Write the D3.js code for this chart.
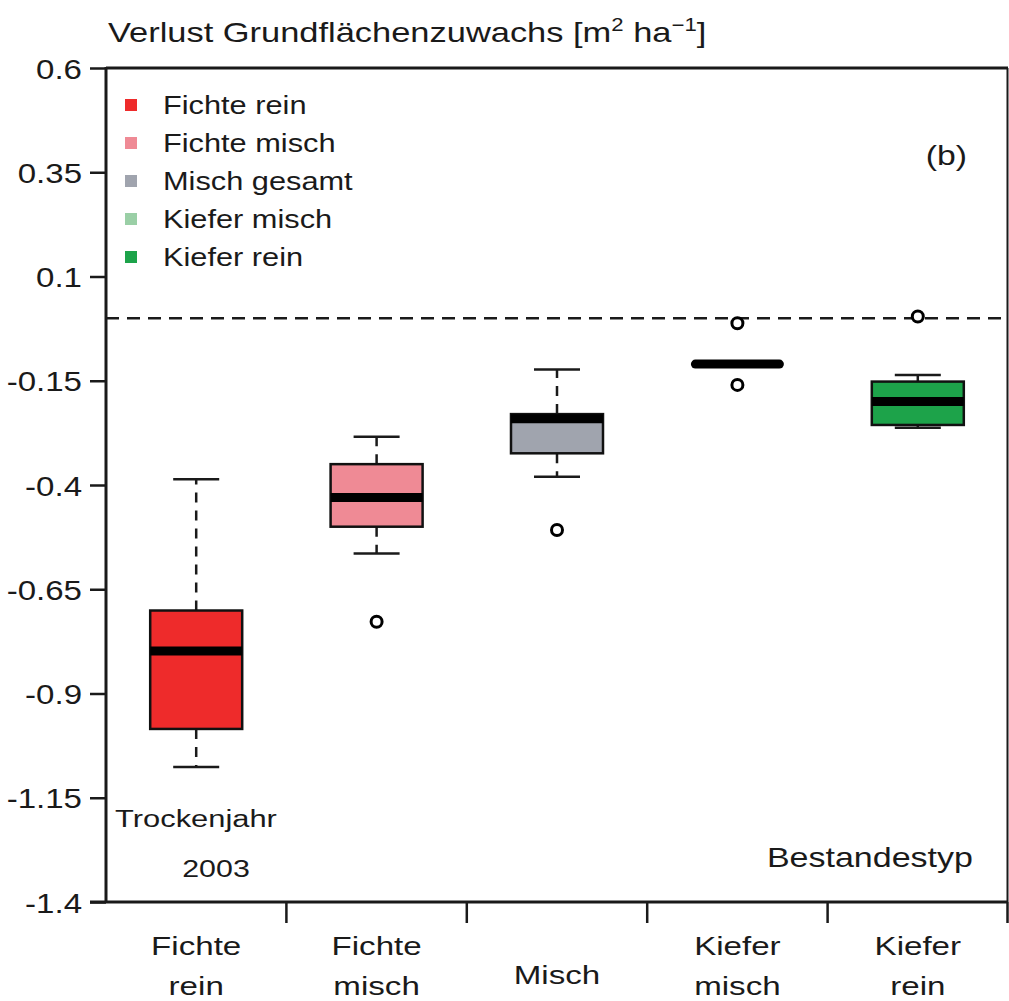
<!DOCTYPE html>
<html>
<head>
<meta charset="utf-8">
<script src="https://cdn.jsdelivr.net/npm/d3@7"></script>
<style>
  html, body { margin: 0; padding: 0; background: #fff; }
  svg { display: block; }
  text { font-family: "Liberation Sans", Arial, Helvetica, sans-serif; fill: #1a1a1a; }
</style>
</head>
<body>
<svg id="chart" width="1009" height="1001"></svg>
<script>
// Stand types (x categories) and their box-plot statistics [m² ha⁻¹]
const categories = ["Fichte rein", "Fichte misch", "Misch", "Kiefer misch", "Kiefer rein"];
const categoryLines = [["Fichte", "rein"], ["Fichte", "misch"], ["Misch"], ["Kiefer", "misch"], ["Kiefer", "rein"]];
const whiskerLow  = [-1.076, -0.564, -0.380, -0.110, -0.263];
const q1          = [-0.985, -0.500, -0.324, -0.110, -0.256];
const medians     = [-0.798, -0.430, -0.241, -0.110, -0.200];
const q3          = [-0.701, -0.350, -0.230, -0.110, -0.152];
const whiskerHigh = [-0.386, -0.284, -0.123, -0.110, -0.136];
const outliers    = [[], [-0.728], [-0.508], [-0.012, -0.160], [0.004]];
const boxColors   = ["#ee2b2b", "#ef8a95", "#a0a4ae", "#9acfa6", "#1da34a"];

// Legend entries
const legendLabels = ["Fichte rein", "Fichte misch", "Misch gesamt", "Kiefer misch", "Kiefer rein"];

// Y axis ticks
const yTickValues = [0.6, 0.35, 0.1, -0.15, -0.4, -0.65, -0.9, -1.15, -1.4];
const yTickLabels = ["0.6", "0.35", "0.1", "-0.15", "-0.4", "-0.65", "-0.9", "-1.15", "-1.4"];
const referenceValue = 0;

const svg = d3.select("#chart");
const plotLeft = 106, plotRight = 1008, plotTop = 68, plotBottom = 902;

// The typeface is set a little wide: move each text's anchor into a transform
// and widen it horizontally around that anchor.
function widen(sel, sx) {
  sel.each(function() {
    const t = d3.select(this);
    const tx = +t.attr("x") || 0, ty = +t.attr("y") || 0;
    t.attr("x", 0).attr("y", 0).attr("transform", `translate(${tx},${ty}) scale(${sx},1)`);
  });
}

const y = d3.scaleLinear().domain([-1.4, 0.6]).range([plotBottom, plotTop]);
const x = d3.scaleBand().domain(categories).range([plotLeft, plotRight]).padding(0);
const bw = x.bandwidth();
const boxW = bw * 0.51;
const capW = boxW * 0.5;

// Title
const title = svg.append("text").attr("x", 108).attr("y", 42).style("font-size", "28px");
title.append("tspan").text("Verlust Grundflächenzuwachs [m");
title.append("tspan").attr("dy", -11).style("font-size", "18px").text("2");
title.append("tspan").attr("dy", 11).text(" ha");
title.append("tspan").attr("dy", -11).style("font-size", "18px").text("−1");
title.append("tspan").attr("dy", 11).text("]");
widen(title, 1.23);

// Y axis
const yAxis = d3.axisLeft(y)
  .tickValues(yTickValues)
  .tickFormat((d, i) => yTickLabels[i])
  .tickSize(16)
  .tickPadding(8);
const gy = svg.append("g").attr("transform", `translate(${plotLeft},0)`).call(yAxis);
gy.select(".domain").remove();
gy.selectAll(".tick line").attr("stroke", "#1a1a1a").attr("stroke-width", 2.5);
gy.selectAll(".tick text").style("font-size", "28px").attr("fill", "#1a1a1a").attr("dy", "0.36em");
widen(gy.selectAll(".tick text"), 1.18);

// X axis labels (no tick marks at centres)
const xAxis = d3.axisBottom(x).tickSize(0).tickFormat("");
const gx = svg.append("g").attr("transform", `translate(0,${plotBottom})`).call(xAxis);
gx.select(".domain").remove();
gx.selectAll(".tick").each(function(d, i) {
  const lines = categoryLines[i];
  const t = d3.select(this).append("text")
    .attr("text-anchor", "middle")
    .style("font-size", "26.5px")
    .attr("fill", "#1a1a1a")
    .attr("transform", "scale(1.25,1)");
  if (lines.length === 1) {
    t.append("tspan").attr("x", 0).attr("y", 82).text(lines[0]);
  } else {
    lines.forEach((s, k) => t.append("tspan").attr("x", 0).attr("y", 53 + k * 40).text(s));
  }
});

// Boundary ticks between categories
const boundaries = categories.map(c => x(c) + bw);
svg.append("g").selectAll("line").data(boundaries).join("line")
  .attr("x1", d => Math.min(d, 1007.5)).attr("x2", d => Math.min(d, 1007.5))
  .attr("y1", plotBottom).attr("y2", plotBottom + 21)
  .attr("stroke", "#1a1a1a").attr("stroke-width", 2.5);

// Frame
svg.append("line").attr("x1", plotLeft).attr("x2", plotLeft).attr("y1", plotTop - 1).attr("y2", plotBottom + 1)
  .attr("stroke", "#1a1a1a").attr("stroke-width", 3);
svg.append("line").attr("x1", 90).attr("x2", plotRight).attr("y1", plotBottom).attr("y2", plotBottom)
  .attr("stroke", "#1a1a1a").attr("stroke-width", 3);
svg.append("line").attr("x1", plotLeft).attr("x2", plotRight).attr("y1", plotTop).attr("y2", plotTop)
  .attr("stroke", "#1a1a1a").attr("stroke-width", 3);
svg.append("line").attr("x1", 1007.5).attr("x2", 1007.5).attr("y1", plotTop).attr("y2", plotBottom)
  .attr("stroke", "#1a1a1a").attr("stroke-width", 2);

// Reference line at zero
svg.append("line")
  .attr("x1", plotLeft).attr("x2", plotRight - 6)
  .attr("y1", y(referenceValue)).attr("y2", y(referenceValue))
  .attr("stroke", "#1a1a1a").attr("stroke-width", 2.5)
  .attr("stroke-dasharray", "13,8");

// Boxes
const boxes = svg.append("g").selectAll("g").data(categories).join("g")
  .attr("transform", d => `translate(${x(d) + bw / 2},0)`);

boxes.each(function(d, i) {
  const g = d3.select(this);
  const hasBox = q3[i] > q1[i];
  // whiskers (dashed) and caps
  if (whiskerHigh[i] > q3[i]) {
    g.append("line").attr("x1", 0).attr("x2", 0)
      .attr("y1", y(q3[i])).attr("y2", y(whiskerHigh[i]))
      .attr("stroke", "#1a1a1a").attr("stroke-width", 2.5).attr("stroke-dasharray", "10,8");
    g.append("line").attr("x1", -capW / 2).attr("x2", capW / 2)
      .attr("y1", y(whiskerHigh[i])).attr("y2", y(whiskerHigh[i]))
      .attr("stroke", "#1a1a1a").attr("stroke-width", 2.5);
  }
  if (whiskerLow[i] < q1[i]) {
    g.append("line").attr("x1", 0).attr("x2", 0)
      .attr("y1", y(q1[i])).attr("y2", y(whiskerLow[i]))
      .attr("stroke", "#1a1a1a").attr("stroke-width", 2.5).attr("stroke-dasharray", "10,8");
    g.append("line").attr("x1", -capW / 2).attr("x2", capW / 2)
      .attr("y1", y(whiskerLow[i])).attr("y2", y(whiskerLow[i]))
      .attr("stroke", "#1a1a1a").attr("stroke-width", 2.5);
  }
  if (hasBox) {
    g.append("rect")
      .attr("x", -boxW / 2).attr("width", boxW)
      .attr("y", y(q3[i])).attr("height", y(q1[i]) - y(q3[i]))
      .attr("fill", boxColors[i]).attr("stroke", "#111").attr("stroke-width", 2.5);
  }
  // median
  g.append("line")
    .attr("x1", -boxW / 2 + (hasBox ? 0 : 4)).attr("x2", boxW / 2 - (hasBox ? 0 : 4))
    .attr("y1", y(medians[i])).attr("y2", y(medians[i]))
    .attr("stroke", "#000").attr("stroke-width", 9)
    .attr("stroke-linecap", hasBox ? "butt" : "round");
  // outliers
  g.selectAll("circle").data(outliers[i]).join("circle")
    .attr("cx", 0).attr("cy", v => y(v)).attr("r", 5.5)
    .attr("fill", "#fff").attr("stroke", "#000").attr("stroke-width", 3);
});

// Legend
const legend = svg.append("g").attr("transform", "translate(125,105)");
legendLabels.forEach((lab, i) => {
  const row = legend.append("g").attr("transform", `translate(0,${i * 38})`);
  row.append("rect").attr("x", 0).attr("y", -6).attr("width", 12).attr("height", 12).attr("fill", boxColors[i]);
  const t = row.append("text").attr("x", 38).attr("y", 9).style("font-size", "25px").text(lab);
  widen(t, 1.23);
});

// Panel annotations
widen(svg.append("text").attr("x", 967).attr("y", 165).attr("text-anchor", "end").style("font-size", "27px").text("(b)"), 1.25);
widen(svg.append("text").attr("x", 196).attr("y", 827).attr("text-anchor", "middle").style("font-size", "24.5px").text("Trockenjahr"), 1.26);
widen(svg.append("text").attr("x", 216).attr("y", 877).attr("text-anchor", "middle").style("font-size", "24.5px").text("2003"), 1.24);
widen(svg.append("text").attr("x", 973).attr("y", 867).attr("text-anchor", "end").style("font-size", "27px").text("Bestandestyp"), 1.26);
</script>
</body>
</html>
